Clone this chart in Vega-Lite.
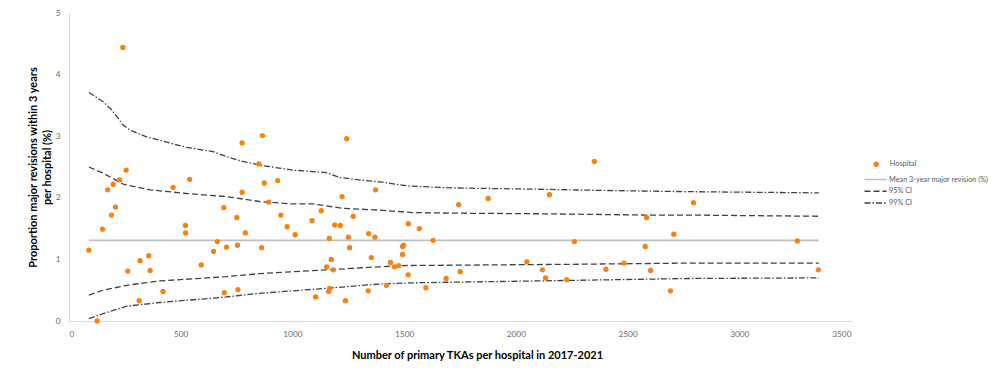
{
  "$schema": "https://vega.github.io/schema/vega-lite/v6.json",
  "width": 782,
  "height": 308,
  "autosize": {"type": "none"},
  "padding": {"left": 69, "top": 13, "right": 148, "bottom": 53},
  "background": "#ffffff",
  "config": {
    "view": {"stroke": null},
    "font": "Lato",
    "axis": {"grid": false, "ticks": false, "domainColor": "#D9D9D9", "domainWidth": 1, "labelColor": "#6b6b6b", "labelFontSize": 8.3, "labelFont": "Lato", "titleFont": "Lato", "titleFontSize": 11, "titleFontWeight": "bold", "titleColor": "#000000"},
    "legend": {"labelFont": "Lato", "labelFontSize": 7.3, "labelColor": "#595959", "padding": 0, "labelLimit": 0}
  },
  "datasets": {
    "hospitals": [
      {"series": "Hospital", "x": 89, "y": 1.15}, {"series": "Hospital", "x": 126, "y": 0.0}, {"series": "Hospital", "x": 150, "y": 1.49}, {"series": "Hospital", "x": 173, "y": 2.13},
      {"series": "Hospital", "x": 190, "y": 1.72}, {"series": "Hospital", "x": 198, "y": 2.22}, {"series": "Hospital", "x": 208, "y": 1.85}, {"series": "Hospital", "x": 226, "y": 2.29},
      {"series": "Hospital", "x": 241, "y": 4.44}, {"series": "Hospital", "x": 256, "y": 2.45}, {"series": "Hospital", "x": 263, "y": 0.81}, {"series": "Hospital", "x": 314, "y": 0.33},
      {"series": "Hospital", "x": 318, "y": 0.98}, {"series": "Hospital", "x": 357, "y": 1.06}, {"series": "Hospital", "x": 363, "y": 0.82}, {"series": "Hospital", "x": 421, "y": 0.48},
      {"series": "Hospital", "x": 466, "y": 2.17}, {"series": "Hospital", "x": 521, "y": 1.55}, {"series": "Hospital", "x": 522, "y": 1.43}, {"series": "Hospital", "x": 540, "y": 2.30},
      {"series": "Hospital", "x": 592, "y": 0.91}, {"series": "Hospital", "x": 647, "y": 1.13}, {"series": "Hospital", "x": 664, "y": 1.29}, {"series": "Hospital", "x": 693, "y": 1.84},
      {"series": "Hospital", "x": 695, "y": 0.46}, {"series": "Hospital", "x": 705, "y": 1.20}, {"series": "Hospital", "x": 751, "y": 1.68}, {"series": "Hospital", "x": 754, "y": 1.23},
      {"series": "Hospital", "x": 756, "y": 0.51}, {"series": "Hospital", "x": 775, "y": 2.89}, {"series": "Hospital", "x": 775, "y": 2.09}, {"series": "Hospital", "x": 789, "y": 1.43},
      {"series": "Hospital", "x": 850, "y": 2.55}, {"series": "Hospital", "x": 862, "y": 1.19}, {"series": "Hospital", "x": 866, "y": 3.01}, {"series": "Hospital", "x": 874, "y": 2.24},
      {"series": "Hospital", "x": 894, "y": 1.93}, {"series": "Hospital", "x": 934, "y": 2.28}, {"series": "Hospital", "x": 948, "y": 1.72}, {"series": "Hospital", "x": 976, "y": 1.53},
      {"series": "Hospital", "x": 1012, "y": 1.40}, {"series": "Hospital", "x": 1088, "y": 1.63}, {"series": "Hospital", "x": 1104, "y": 0.39}, {"series": "Hospital", "x": 1129, "y": 1.79},
      {"series": "Hospital", "x": 1153, "y": 0.88}, {"series": "Hospital", "x": 1162, "y": 0.48}, {"series": "Hospital", "x": 1165, "y": 1.34}, {"series": "Hospital", "x": 1167, "y": 0.53},
      {"series": "Hospital", "x": 1174, "y": 1.00}, {"series": "Hospital", "x": 1183, "y": 0.83}, {"series": "Hospital", "x": 1189, "y": 1.56}, {"series": "Hospital", "x": 1214, "y": 1.55},
      {"series": "Hospital", "x": 1222, "y": 2.02}, {"series": "Hospital", "x": 1237, "y": 0.33}, {"series": "Hospital", "x": 1243, "y": 2.96}, {"series": "Hospital", "x": 1251, "y": 1.36},
      {"series": "Hospital", "x": 1256, "y": 1.19}, {"series": "Hospital", "x": 1272, "y": 1.70}, {"series": "Hospital", "x": 1341, "y": 1.42}, {"series": "Hospital", "x": 1339, "y": 0.49},
      {"series": "Hospital", "x": 1353, "y": 1.03}, {"series": "Hospital", "x": 1369, "y": 1.36}, {"series": "Hospital", "x": 1372, "y": 2.13}, {"series": "Hospital", "x": 1421, "y": 0.58},
      {"series": "Hospital", "x": 1439, "y": 0.95}, {"series": "Hospital", "x": 1457, "y": 0.88}, {"series": "Hospital", "x": 1476, "y": 0.90}, {"series": "Hospital", "x": 1493, "y": 1.08},
      {"series": "Hospital", "x": 1493, "y": 1.21}, {"series": "Hospital", "x": 1497, "y": 1.23}, {"series": "Hospital", "x": 1518, "y": 0.75}, {"series": "Hospital", "x": 1519, "y": 1.58},
      {"series": "Hospital", "x": 1568, "y": 1.50}, {"series": "Hospital", "x": 1597, "y": 0.54}, {"series": "Hospital", "x": 1629, "y": 1.31}, {"series": "Hospital", "x": 1688, "y": 0.69},
      {"series": "Hospital", "x": 1744, "y": 1.89}, {"series": "Hospital", "x": 1751, "y": 0.80}, {"series": "Hospital", "x": 1876, "y": 1.99}, {"series": "Hospital", "x": 2049, "y": 0.96},
      {"series": "Hospital", "x": 2119, "y": 0.83}, {"series": "Hospital", "x": 2133, "y": 0.70}, {"series": "Hospital", "x": 2150, "y": 2.05}, {"series": "Hospital", "x": 2228, "y": 0.67},
      {"series": "Hospital", "x": 2262, "y": 1.29}, {"series": "Hospital", "x": 2351, "y": 2.59}, {"series": "Hospital", "x": 2403, "y": 0.84}, {"series": "Hospital", "x": 2484, "y": 0.94},
      {"series": "Hospital", "x": 2579, "y": 1.21}, {"series": "Hospital", "x": 2585, "y": 1.68}, {"series": "Hospital", "x": 2603, "y": 0.82}, {"series": "Hospital", "x": 2692, "y": 0.49},
      {"series": "Hospital", "x": 2707, "y": 1.41}, {"series": "Hospital", "x": 2795, "y": 1.92}, {"series": "Hospital", "x": 3260, "y": 1.30}, {"series": "Hospital", "x": 3354, "y": 0.83}
    ],
    "meanline": [
      {"series": "Mean 3-year major revision (%)", "band": "mean", "x": 89, "y": 1.31},
      {"series": "Mean 3-year major revision (%)", "band": "mean", "x": 3356, "y": 1.31}
    ],
    "ci": [
      {"series": "99% CI", "band": "99u", "x": 89, "y": 3.71}, {"series": "99% CI", "band": "99u", "x": 153, "y": 3.56}, {"series": "99% CI", "band": "99u", "x": 190, "y": 3.43},
      {"series": "99% CI", "band": "99u", "x": 243, "y": 3.18}, {"series": "99% CI", "band": "99u", "x": 272, "y": 3.10}, {"series": "99% CI", "band": "99u", "x": 347, "y": 2.99},
      {"series": "99% CI", "band": "99u", "x": 525, "y": 2.82}, {"series": "99% CI", "band": "99u", "x": 644, "y": 2.75}, {"series": "99% CI", "band": "99u", "x": 704, "y": 2.67},
      {"series": "99% CI", "band": "99u", "x": 778, "y": 2.59}, {"series": "99% CI", "band": "99u", "x": 853, "y": 2.53}, {"series": "99% CI", "band": "99u", "x": 1001, "y": 2.45},
      {"series": "99% CI", "band": "99u", "x": 1150, "y": 2.41}, {"series": "99% CI", "band": "99u", "x": 1210, "y": 2.33}, {"series": "99% CI", "band": "99u", "x": 1299, "y": 2.29},
      {"series": "99% CI", "band": "99u", "x": 1388, "y": 2.26}, {"series": "99% CI", "band": "99u", "x": 1522, "y": 2.19}, {"series": "99% CI", "band": "99u", "x": 1716, "y": 2.16},
      {"series": "99% CI", "band": "99u", "x": 2088, "y": 2.14}, {"series": "99% CI", "band": "99u", "x": 2385, "y": 2.12}, {"series": "99% CI", "band": "99u", "x": 2757, "y": 2.10},
      {"series": "99% CI", "band": "99u", "x": 3356, "y": 2.08},
      {"series": "95% CI", "band": "95u", "x": 89, "y": 2.50}, {"series": "95% CI", "band": "95u", "x": 153, "y": 2.40}, {"series": "95% CI", "band": "95u", "x": 243, "y": 2.22},
      {"series": "95% CI", "band": "95u", "x": 362, "y": 2.13}, {"series": "95% CI", "band": "95u", "x": 525, "y": 2.07}, {"series": "95% CI", "band": "95u", "x": 704, "y": 2.02},
      {"series": "95% CI", "band": "95u", "x": 853, "y": 1.94}, {"series": "95% CI", "band": "95u", "x": 1001, "y": 1.90}, {"series": "95% CI", "band": "95u", "x": 1091, "y": 1.90},
      {"series": "95% CI", "band": "95u", "x": 1225, "y": 1.83}, {"series": "95% CI", "band": "95u", "x": 1388, "y": 1.80}, {"series": "95% CI", "band": "95u", "x": 1537, "y": 1.76},
      {"series": "95% CI", "band": "95u", "x": 1746, "y": 1.75}, {"series": "95% CI", "band": "95u", "x": 2133, "y": 1.74}, {"series": "95% CI", "band": "95u", "x": 2579, "y": 1.72},
      {"series": "95% CI", "band": "95u", "x": 2772, "y": 1.72}, {"series": "95% CI", "band": "95u", "x": 3356, "y": 1.70},
      {"series": "95% CI", "band": "95l", "x": 89, "y": 0.42}, {"series": "95% CI", "band": "95l", "x": 153, "y": 0.50}, {"series": "95% CI", "band": "95l", "x": 258, "y": 0.58},
      {"series": "95% CI", "band": "95l", "x": 406, "y": 0.65}, {"series": "95% CI", "band": "95l", "x": 704, "y": 0.72}, {"series": "95% CI", "band": "95l", "x": 853, "y": 0.77},
      {"series": "95% CI", "band": "95l", "x": 1150, "y": 0.83}, {"series": "95% CI", "band": "95l", "x": 1388, "y": 0.88}, {"series": "95% CI", "band": "95l", "x": 1493, "y": 0.90},
      {"series": "95% CI", "band": "95l", "x": 2237, "y": 0.92}, {"series": "95% CI", "band": "95l", "x": 2772, "y": 0.94}, {"series": "95% CI", "band": "95l", "x": 3356, "y": 0.94},
      {"series": "99% CI", "band": "99l", "x": 89, "y": 0.04}, {"series": "99% CI", "band": "99l", "x": 153, "y": 0.12}, {"series": "99% CI", "band": "99l", "x": 258, "y": 0.24},
      {"series": "99% CI", "band": "99l", "x": 406, "y": 0.30}, {"series": "99% CI", "band": "99l", "x": 704, "y": 0.39}, {"series": "99% CI", "band": "99l", "x": 853, "y": 0.45},
      {"series": "99% CI", "band": "99l", "x": 1150, "y": 0.53}, {"series": "99% CI", "band": "99l", "x": 1388, "y": 0.60}, {"series": "99% CI", "band": "99l", "x": 1537, "y": 0.62},
      {"series": "99% CI", "band": "99l", "x": 2088, "y": 0.65}, {"series": "99% CI", "band": "99l", "x": 2608, "y": 0.68}, {"series": "99% CI", "band": "99l", "x": 2772, "y": 0.69},
      {"series": "99% CI", "band": "99l", "x": 3356, "y": 0.70}
    ]
  },
  "encoding": {
    "x": {"field": "x", "type": "quantitative", "scale": {"domain": [0, 3500], "nice": false},
      "axis": {"values": [0, 500, 1000, 1500, 2000, 2500, 3000, 3500], "format": "d", "title": "Number of primary TKAs per hospital in 2017-2021", "labelPadding": 8, "titlePadding": 12, "titleX": 408}},
    "y": {"field": "y", "type": "quantitative", "scale": {"domain": [0, 5], "nice": false},
      "axis": {"values": [0, 1, 2, 3, 4, 5], "format": "d", "title": ["Proportion major revisions within 3 years", "per hospital (%)"], "titleLineHeight": 13.5, "labelPadding": 9, "titlePadding": 3}}
  },
  "layer": [
    {
      "data": {"name": "meanline"},
      "mark": {"type": "line", "strokeWidth": 1.8},
      "encoding": {
        "detail": {"field": "band"},
        "stroke": {"field": "series", "type": "nominal",
          "scale": {"domain": ["Mean 3-year major revision (%)", "95% CI", "99% CI"], "range": ["#BFBFBF", "#404040", "#404040"]},
          "legend": {"title": null, "orient": "none", "legendX": 800, "legendY": 160, "symbolType": "M-2,0H2", "symbolSize": 121, "symbolStrokeWidth": 1.5, "labelOffset": 7, "rowPadding": 1.7, "labelLimit": 0}},
        "strokeDash": {"field": "series", "type": "nominal",
          "scale": {"domain": ["Mean 3-year major revision (%)", "95% CI", "99% CI"], "range": [[1, 0], [6, 3], [6, 2, 1.5, 2]]}}
      }
    },
    {
      "data": {"name": "ci"},
      "mark": {"type": "line", "strokeWidth": 1.3},
      "encoding": {
        "detail": {"field": "band"},
        "stroke": {"field": "series", "type": "nominal"},
        "strokeDash": {"field": "series", "type": "nominal"}
      }
    },
    {
      "data": {"name": "hospitals"},
      "mark": {"type": "circle", "size": 28, "opacity": 1},
      "encoding": {
        "fill": {"field": "series", "type": "nominal", "scale": {"range": ["#F58213"]},
          "legend": {"title": null, "orient": "none", "legendX": 803.5, "legendY": 147.6, "symbolType": "circle", "symbolSize": 28, "symbolOpacity": 1, "labelOffset": 10}}
      }
    }
  ]
}
